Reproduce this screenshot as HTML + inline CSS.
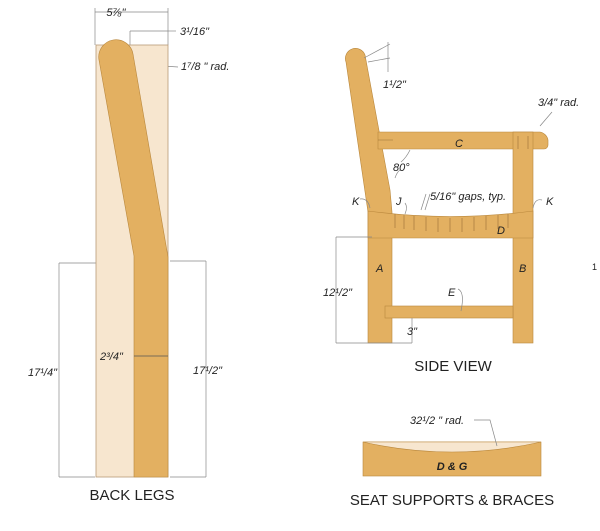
<!DOCTYPE html>
<html><head><meta charset="utf-8"><style>
html,body{margin:0;padding:0;background:#fff;}
svg{display:block;}
text{font-family:"Liberation Sans",sans-serif;fill:#222;}
.h{font-style:italic;font-size:11px;}
.t{font-size:15px;}
</style></head><body>
<svg width="600" height="531" viewBox="0 0 600 531" xmlns="http://www.w3.org/2000/svg">
<g stroke="#888" stroke-width="0.7" fill="none">
<line x1="95" y1="12" x2="168" y2="12"/><line x1="95" y1="8" x2="95" y2="45"/><line x1="168" y1="8" x2="168" y2="45"/>
<line x1="130" y1="31" x2="168" y2="31"/><line x1="130" y1="31" x2="130" y2="45"/><line x1="168" y1="31" x2="176" y2="31"/>
<line x1="105" y1="52" x2="118" y2="63"/><line x1="118" y1="63" x2="178" y2="67"/>
<line x1="59" y1="263" x2="132" y2="263"/><line x1="59" y1="263" x2="59" y2="477"/><line x1="59" y1="477" x2="95" y2="477"/>
<line x1="170" y1="261" x2="206" y2="261"/><line x1="206" y1="261" x2="206" y2="477"/><line x1="170" y1="477" x2="206" y2="477"/>
</g>
<rect x="96" y="45" width="72" height="432" fill="#f7e6cf" stroke="#b89a76" stroke-width="0.8"/>
<path d="M99,60 A17,17 0 0 1 133,54 L168,257 L168,477 L134,477 L134,256 Z" fill="#e3b061" stroke="#b9873c" stroke-width="0.6"/>
<line x1="134" y1="356" x2="168" y2="356" stroke="#555" stroke-width="0.8"/>
<text class="h" x="116" y="16" text-anchor="middle" font-size="12">5⅞"</text>
<text class="h" x="180" y="35">3¹/16"</text>
<text class="h" x="181" y="70">1⁷/8 " rad.</text>
<text class="h" x="100" y="360">2³/4"</text>
<text class="h" x="28" y="376">17¹/4"</text>
<text class="h" x="193" y="374">17¹/2"</text>
<text class="t" x="132" y="500" text-anchor="middle">BACK LEGS</text>

<g fill="#e3b061" stroke="#b9873c" stroke-width="0.6">
<path d="M346,62 A10,10 0 0 1 365,55 L390,190 L392,212 L392,343 L368,343 L368,212 Z"/>
<path d="M378,132 L540,132 A10,10 0 0 1 548,140 L548,145 A4,4 0 0 1 544,149 L378,149 Z"/>
<rect x="513" y="132" width="20" height="211"/>
<path d="M368,211 Q450,222 533,211 L533,238 L368,238 Z"/>
<rect x="385" y="306" width="128" height="12"/>
</g>
<g stroke="#9a6f35" stroke-width="0.6" fill="none">
<path d="M395,214 L395,228 M404,215 L404,229 M414,216 L414,230 M426,217 L426,231 M438,218 L438,232 M450,218 L450,232 M462,218 L462,232 M474,217 L474,231 M486,216 L486,230 M498,215 L498,229 M508,214 L508,228"/>
<path d="M378,140 L393,140 M518,136 L518,149 M528,136 L528,149"/>
</g>
<g stroke="#888" stroke-width="0.7" fill="none">
<line x1="364" y1="58" x2="390" y2="44"/><line x1="368" y1="62" x2="390" y2="58"/><line x1="388" y1="42" x2="388" y2="72"/>
<path d="M540,126 L552,112"/>
<path d="M410,150 Q406,158 401,162"/><path d="M395,178 Q397,172 400,170"/>
<path d="M430,194 L425,210"/><path d="M426,194 L421,210"/>
<path d="M360,199 Q368,198 370,208"/><path d="M405,203 Q408,207 405,214"/><path d="M542,200 Q535,198 533,208"/>
<path d="M458,289 Q465,292 461,311"/>
<line x1="336" y1="237" x2="372" y2="237"/><line x1="336" y1="237" x2="336" y2="343"/><line x1="336" y1="343" x2="412" y2="343"/>
<line x1="412" y1="318" x2="412" y2="343"/>
</g>
<text class="h" x="383" y="88">1¹/2"</text>
<text class="h" x="538" y="106">3/4" rad.</text>
<text class="h" x="455" y="147" font-size="13">C</text>
<text class="h" x="393" y="171">80°</text>
<text class="h" x="430" y="200">5/16" gaps, typ.</text>
<text class="h" x="352" y="205">K</text>
<text class="h" x="396" y="205">J</text>
<text class="h" x="546" y="205">K</text>
<text class="h" x="497" y="234" font-size="13">D</text>
<text class="h" x="376" y="272" font-size="13">A</text>
<text class="h" x="519" y="272" font-size="13">B</text>
<text class="h" x="448" y="296" font-size="12">E</text>
<text class="h" x="323" y="296">12¹/2"</text>
<text class="h" x="407" y="335">3"</text>
<text class="t" x="453" y="371" text-anchor="middle">SIDE VIEW</text>

<rect x="363" y="442" width="178" height="34" fill="#e3b061" stroke="#b9873c" stroke-width="0.6"/>
<path d="M363,442 Q452,462 541,442 Z" fill="#f7e6cf" stroke="#b9873c" stroke-width="0.6"/>
<path d="M474,420 L490,420 L497,446" stroke="#888" stroke-width="0.7" fill="none"/>
<text class="h" x="410" y="424">32¹/2 " rad.</text>
<text class="h" x="452" y="470" text-anchor="middle" font-size="12" font-weight="bold">D &amp; G</text>
<text class="t" x="452" y="505" text-anchor="middle">SEAT SUPPORTS &amp; BRACES</text>
<text x="592" y="270" font-size="9">1</text>
</svg>
</body></html>
